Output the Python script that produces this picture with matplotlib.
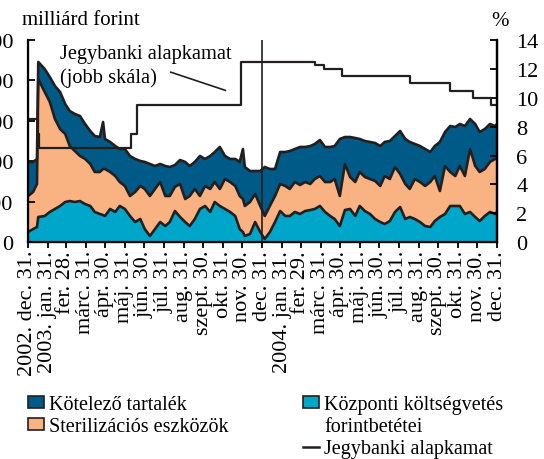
import numpy as np
import pandas as pd
import matplotlib
matplotlib.use("Agg")
import matplotlib.pyplot as plt
import matplotlib.dates as mdates
from matplotlib.patches import Patch
from matplotlib.lines import Line2D

plt.rcParams['font.family'] = ['Liberation Serif', 'DejaVu Serif']

# days counted from 2002-12-31, values in billion HUF
start = np.datetime64('2002-12-31')
days = [0, 8, 14, 16, 26, 34, 42, 50, 58, 65, 73, 81, 89, 97, 104, 112, 117, 120,
        128, 136, 143, 151, 159, 167, 175, 182, 190, 198, 206, 214, 221, 229, 237,
        245, 252, 260, 268, 276, 284, 291, 299, 307, 315, 323, 330, 335, 338, 346,
        354, 362, 369, 377, 385, 393, 401, 408, 416, 424, 432, 440, 447, 455, 463,
        471, 478, 486, 494, 502, 510, 517, 525, 533, 541, 549, 556, 564, 572, 580,
        588, 595, 603, 611, 619, 627, 634, 642, 650, 658, 666, 673, 681, 689, 697,
        704, 712, 720, 728, 731]

kotelezo = [421, 371, 309, 211, 284, 309, 408, 458, 370, 433, 458, 494, 432, 408, 445,
            432, 581, 371, 371, 371, 408, 457, 495, 408, 309, 334, 396, 284, 223, 371,
            359, 271, 296, 458, 371, 334, 495, 334, 408, 371, 519, 285, 285, 334, 421,
            618, 482, 383, 284, 432, 606, 457, 334, 395, 420, 469, 408, 470, 433, 469,
            433, 445, 433, 433, 408, 705, 333, 494, 544, 408, 445, 458, 469, 494, 421,
            470, 383, 532, 556, 581, 433, 445, 457, 371, 371, 606, 420, 568, 606, 519,
            618, 371, 519, 494, 494, 469, 407, 432]

steril = [445, 458, 532, 1705, 1533, 1359, 1112, 951, 841, 680, 630, 557, 557, 519,
          494, 519, 569, 581, 457, 444, 296, 284, 247, 371, 408, 495, 494, 495, 494,
          371, 321, 297, 408, 284, 371, 371, 160, 247, 284, 247, 210, 370, 370, 371,
          408, 408, 371, 395, 346, 322, 284, 322, 321, 334, 371, 334, 370, 358, 358,
          322, 370, 370, 370, 420, 494, 371, 569, 395, 420, 420, 420, 432, 470, 445,
          593, 519, 556, 408, 433, 346, 494, 494, 495, 556, 556, 321, 593, 420, 370,
          494, 469, 778, 630, 606, 581, 618, 680, 655]

kozponti = [127, 164, 189, 313, 325, 375, 412, 449, 498, 510, 498, 510, 473, 449, 375,
            350, 337, 325, 412, 375, 449, 412, 325, 251, 288, 164, 78, 164, 251, 201,
            251, 387, 313, 251, 201, 288, 412, 449, 375, 498, 449, 412, 375, 325, 164,
            127, 78, 103, 251, 127, 41, 127, 251, 387, 325, 325, 375, 350, 387, 399,
            412, 449, 375, 325, 288, 201, 399, 412, 325, 449, 387, 350, 288, 251, 226,
            263, 375, 436, 288, 313, 288, 251, 201, 189, 263, 313, 350, 449, 449, 449,
            350, 375, 313, 263, 325, 375, 350, 375]

# central bank base rate, %
rate_dates = ['2002-12-31', '2003-01-16', '2003-01-17', '2003-06-10', '2003-06-19',
              '2003-11-28', '2004-03-22', '2004-04-06', '2004-05-04', '2004-08-17',
              '2004-10-19', '2004-11-23', '2004-12-21', '2004-12-31']
rate = [8.5, 7.5, 6.5, 7.5, 9.5, 12.5, 12.25, 12.0, 11.5, 11.0, 10.5, 10.0, 9.5, 9.5]

tick_labels = ['2002. dec. 31.', '2003. jan. 31.', 'fer. 28.', 'márc. 31.', 'ápr. 30.',
               'máj. 31.', 'jún. 30.', 'júl. 31.', 'aug. 31.', 'szept. 30.', 'okt. 31.',
               'nov. 30.', 'dec. 31.', '2004. jan. 31.', 'fer. 29.', 'márc. 31.',
               'ápr. 30.', 'máj. 31.', 'jún. 30.', 'júl. 31.', 'aug. 31.', 'szept. 30.',
               'okt. 31.', 'nov. 30.', 'dec. 31.']

c_blue = '#005A87'
c_orange = '#F9B383'
c_cyan = '#00A6C9'
c_black = '#231F20'

x = mdates.date2num(start + np.array(days, dtype='timedelta64[D]'))
rate_x = mdates.date2num(np.array(rate_dates, dtype='datetime64[D]'))
month_ends = pd.date_range('2002-12-01', '2004-12-31', freq='ME')
tick_x = mdates.date2num(month_ends.to_numpy())

fig = plt.figure(figsize=(5.44, 4.6), dpi=100)
ax = fig.add_axes([28 / 544, 1 - 243.3 / 460, 469 / 544, 202.3 / 460])

ax.stackplot(x, kozponti, steril, kotelezo, colors=[c_cyan, c_orange, c_blue], lw=0)
cum = np.cumsum([kozponti, steril, kotelezo], axis=0)
for c in cum:
    ax.plot(x, c, color=c_black, lw=1.9)

ax.axvline(mdates.date2num(np.datetime64('2003-12-31')), color=c_black, lw=1.2)

ax.set_xlim(x[0], x[-1])
ax.set_ylim(0, 2500)
ax.set_yticks(range(0, 2501, 500))
ax.set_xticks(tick_x)
ax.set_xticklabels(tick_labels, rotation=90, va='top', ha='center')
ax.tick_params(axis='x', direction='out', length=4, width=1.3, pad=1.5, labelsize=16)
ax.tick_params(axis='y', direction='in', length=5, width=1.3, pad=10.5, labelsize=16)
ax.spines['top'].set_visible(False)
for s in ['left', 'bottom', 'right']:
    ax.spines[s].set_linewidth(1.6)

ax2 = ax.twinx()
ax2.step(rate_x, rate, where='post', color=c_black, lw=1.6)
ax2.set_ylim(0, 14)
ax2.set_yticks(range(0, 15, 2))
ax2.tick_params(axis='y', direction='in', length=5, width=1.3, pad=14, labelsize=16)
ax2.spines['top'].set_visible(False)
ax2.spines['right'].set_linewidth(1.6)

ax2.text(mdates.date2num(np.datetime64('2003-02-19')), 13.75,
         'Jegybanki alapkamat\n(jobb skála)', va='top', ha='left',
         fontsize=14.7, linespacing=1.3)
ax2.annotate('', xy=(mdates.date2num(np.datetime64('2003-11-08')), 10.45),
             xytext=(mdates.date2num(np.datetime64('2003-08-06')), 11.84),
             arrowprops=dict(arrowstyle='-', lw=1.2, color=c_black))

fig.text(22 / 544, 1 - 25 / 460, 'milliárd forint', fontsize=15, va='baseline')
fig.text(500 / 544, 1 - 26 / 460, '%', fontsize=15, va='baseline', ha='center')

leg_kw = dict(loc='upper left', frameon=False, fontsize=14.5, handlelength=0.8,
              handleheight=0.5, handletextpad=0.25, labelspacing=0.16,
              borderpad=0, borderaxespad=0)
fig.legend([Patch(facecolor=c_blue, edgecolor=c_black, lw=1.2),
            Patch(facecolor=c_orange, edgecolor=c_black, lw=1.2)],
           ['Kötelező tartalék', 'Sterilizációs eszközök'],
           bbox_to_anchor=(28 / 544, 1 - 396 / 460), **leg_kw)
fig.legend([Patch(facecolor=c_cyan, edgecolor=c_black, lw=1.2),
            Line2D([], [], color='none'),
            Line2D([], [], color=c_black, lw=1.8)],
           ['Központi költségvetés', 'forintbetétei', 'Jegybanki alapkamat'],
           bbox_to_anchor=(303 / 544, 1 - 396 / 460), **leg_kw)

fig.savefig('out.png', dpi=100)
